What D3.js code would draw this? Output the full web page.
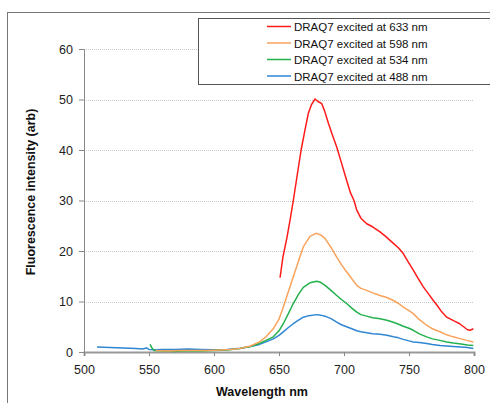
<!DOCTYPE html>
<html><head><meta charset="utf-8">
<script src="https://cdn.jsdelivr.net/npm/d3@7"></script>
<style>body{margin:0;background:#fff;} svg{display:block;font-family:"Liberation Sans",Arial,sans-serif;}</style>
</head><body>
<svg id="chart" width="490" height="403"></svg>
<script>
const seriesNames = ["DRAQ7 excited at 633 nm","DRAQ7 excited at 598 nm","DRAQ7 excited at 534 nm","DRAQ7 excited at 488 nm"];
const seriesColors = ["#ff1a1a","#f9a35c","#22b14c","#2f86d3"];
const xTicks = [500,550,600,650,700,750,800];
const yTicks = [0,10,20,30,40,50,60];

const redNm  = [650.8,653,656,658.5,661,664,667,670,672.6,675,677.7,680,682.8,685,688,691,694.4,698,702,705,707.7,709.8,713,717.5,722,727.7,732,738,742,745.6,749,753.3,757,761,765,768.7,772,775,779,782,785,789,792,795,797,799.5];
const redVal = [14.7,18.8,22.5,26.1,30,35,40,44,47.3,49,50.1,49.6,49.2,47.8,45.3,43,40.6,37.5,34,31.5,30,28.1,26.5,25.4,24.8,23.8,22.9,21.5,20.6,19.5,18,16.2,14.6,12.9,11.5,10.2,9.1,8.0,6.9,6.5,6.1,5.6,5.0,4.4,4.3,4.6];

const orangeNm  = [555,565,575,585,595,605,612,620,628,635,640,645.6,650,653.3,657,661,665,668.7,673.8,678.5,682,685.4,690,694.4,698,702,706,709.8,713,717.5,722,727.7,733,738,742,745.6,750,753.3,758,763.6,768,773.8,779,784,790,794.4,799.5];
const orangeVal = [0.3,0.2,0.3,0.3,0.3,0.4,0.5,0.7,1.2,2.0,3.0,4.6,6.5,8.9,11.8,14.9,18.0,20.8,22.9,23.5,23.2,22.5,20.7,18.8,17.3,15.9,14.5,13.2,12.6,12.2,11.7,11.2,10.8,10.2,9.6,8.9,8.2,7.6,6.4,5.3,4.6,4.0,3.4,3.0,2.6,2.3,2.0];

const greenNm  = [550.8,552,554,560,570,575,580,590,600,610,620,628,635,640,645.6,650,653.3,657,661,665,668.7,673.8,679,682,685.4,690,694.4,698,702,706,709.8,713,717.5,722,727.7,733,738,742,745.6,750,753.3,758,763.6,768,773.8,779,784,790,795,799.5];
const greenVal = [1.5,0.9,0.3,0.2,0.1,0.2,0.25,0.2,0.3,0.4,0.7,1.1,1.7,2.3,3.0,4.2,5.6,7.5,9.6,11.4,12.8,13.7,14.0,13.8,13.2,12.2,11.2,10.4,9.6,8.7,7.9,7.4,7.1,6.8,6.6,6.3,5.9,5.5,5.1,4.7,4.3,3.6,3.0,2.6,2.3,2.0,1.8,1.6,1.4,1.3];

const blueNm  = [510,515,520,525,530,535,540,545,548,550,555,560,570,580,590,600,610,620,628,635,640,645.6,650,653.3,657,661,665,668.7,673,679,682,685.4,690,694.4,698,702,706,709.8,713,717.5,722,727.7,733,738,742,745.6,750,753.3,758,763.6,768,773.8,779,784,790,795,799.5];
const blueVal = [1.0,0.95,0.9,0.85,0.8,0.75,0.7,0.6,0.8,0.5,0.45,0.5,0.5,0.6,0.5,0.45,0.5,0.75,1.1,1.5,2.0,2.6,3.3,4.0,4.8,5.6,6.3,6.9,7.2,7.4,7.3,7.1,6.6,5.9,5.4,5.0,4.6,4.2,4.0,3.8,3.6,3.5,3.3,3.0,2.8,2.5,2.2,2.0,1.9,1.7,1.5,1.3,1.2,1.1,1.0,0.9,0.7];

const seriesNm = [redNm, orangeNm, greenNm, blueNm];
const seriesVal = [redVal, orangeVal, greenVal, blueVal];

(function(){
const svg = d3.select("#chart");
const mLeft = 84, mRight = 474, mTop = 49, mBottom = 352;
const x = d3.scaleLinear().domain([500,800]).range([mLeft,mRight]);
const y = d3.scaleLinear().domain([0,60]).range([mBottom,mTop]);

// outer frame
svg.append("rect").attr("x",7.5).attr("y",12.5).attr("width",600).attr("height",500)
  .attr("fill","none").attr("stroke","#777").attr("stroke-width",1);

// gridlines
svg.append("g").selectAll("line").data(yTicks.filter(d=>d>0)).join("line")
  .attr("x1",mLeft).attr("x2",mRight).attr("y1",d=>Math.round(y(d))+0.5).attr("y2",d=>Math.round(y(d))+0.5)
  .attr("stroke","#c8c8c8").attr("stroke-dasharray","1,1");

// y axis
const yAxis = svg.append("g").attr("transform",`translate(${mLeft},0)`)
  .call(d3.axisLeft(y).tickValues(yTicks).tickSize(5).tickPadding(6));
yAxis.select(".domain").attr("stroke","#888");
yAxis.selectAll(".tick line").attr("stroke","#888");
yAxis.selectAll("text").attr("font-size","12.5px").attr("fill","#222").attr("font-family","Liberation Sans, Arial, sans-serif");

// x axis
const xAxis = svg.append("g").attr("transform",`translate(0,${mBottom})`)
  .call(d3.axisBottom(x).tickValues(xTicks).tickSize(4).tickPadding(9));
xAxis.select(".domain").attr("stroke","#999").attr("stroke-width",2);
xAxis.selectAll(".tick line").attr("stroke","#888");
xAxis.selectAll("text").attr("font-size","12.5px").attr("fill","#222").attr("font-family","Liberation Sans, Arial, sans-serif");

// lines
const line = d3.line().x(d=>x(d[0])).y(d=>y(d[1]));
[3,2,1,0].forEach(i=>{
  const pts = seriesNm[i].map((n,j)=>[n, seriesVal[i][j]]);
  svg.append("path").datum(pts).attr("d",line).attr("fill","none")
    .attr("stroke",seriesColors[i]).attr("stroke-width",1.5).attr("stroke-linejoin","round");
});

// axis titles
svg.append("text").attr("x",262).attr("y",396).attr("text-anchor","middle")
  .attr("font-size","12.5px").attr("font-weight","bold").attr("fill","#111").text("Wavelength nm");
svg.append("text").attr("transform","translate(35,192) rotate(-90)").attr("text-anchor","middle")
  .attr("font-size","12.5px").attr("font-weight","bold").attr("fill","#111").text("Fluorescence intensity (arb)");

// legend
svg.append("rect").attr("x",198.5).attr("y",18.5).attr("width",400).attr("height",66)
  .attr("fill","#fff").attr("stroke","#555");
const lg = svg.append("g").selectAll("g").data(seriesNames).join("g")
  .attr("transform",(d,i)=>`translate(0,${26.5+i*16.5})`);
lg.append("line").attr("x1",267).attr("x2",291).attr("y1",0).attr("y2",0)
  .attr("stroke",(d,i)=>seriesColors[i]).attr("stroke-width",1.5);
lg.append("text").attr("x",294).attr("y",4.5).attr("font-size","11.5px").attr("fill","#111").text(d=>d);
})();
</script>
</body></html>
